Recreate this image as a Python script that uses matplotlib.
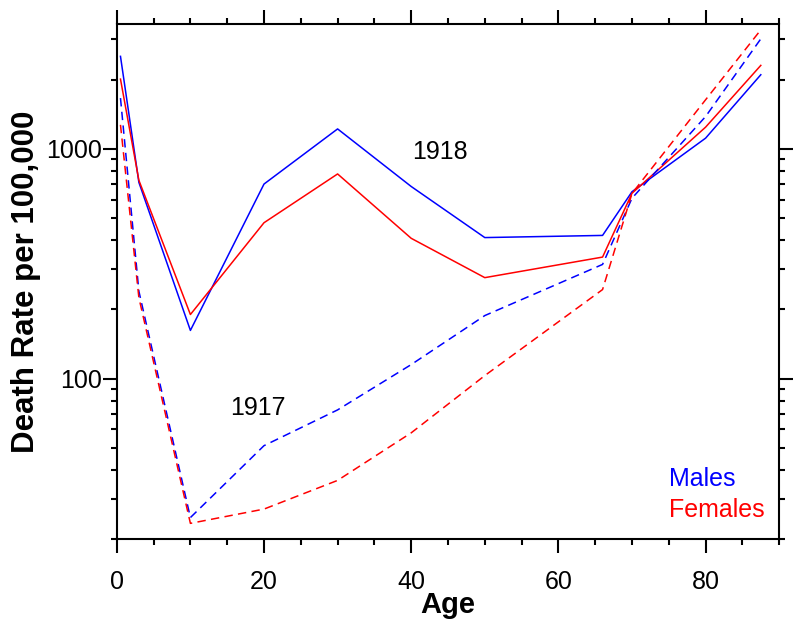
import matplotlib
matplotlib.use('Agg')
from matplotlib import pyplot as plt
from matplotlib.ticker import FixedLocator, LogLocator, MultipleLocator, NullFormatter

ages = [0.5, 3, 10, 20, 30, 40, 50, 66, 70, 80, 87.5]
males_1918 = [2530, 715, 162, 703, 1222, 686, 411, 420, 651, 1114, 2104]
females_1918 = [2014, 730, 190, 477, 778, 408, 275, 338, 641, 1244, 2311]
males_1917 = [1665, 240, 24.8, 51, 73, 115, 188, 314, 610, 1384, 3015]
females_1917 = [1273, 225, 23.4, 27, 36, 58, 103, 244, 640, 1637, 3300]

plt.rcParams['font.family'] = ['Liberation Sans', 'DejaVu Sans']

fig = plt.figure(figsize=(8.0, 6.28), dpi=100)
ax = fig.add_axes([0.146, 0.1417, 0.828, 0.8201])

lw = 1.1
ax.plot(ages, males_1918, color='#0000ff', lw=lw)
ax.plot(ages, females_1918, color='#ff0000', lw=lw)
ax.plot(ages, males_1917, color='#0000ff', lw=lw, dashes=(5.5, 3.5))
ax.plot(ages, females_1917, color='#ff0000', lw=lw, dashes=(5.5, 3.5))

ax.set_yscale('log')
ax.set_xlim(0, 90)
ax.set_ylim(20, 3500)

ax.xaxis.set_major_locator(MultipleLocator(20))
ax.xaxis.set_minor_locator(MultipleLocator(5))
ax.yaxis.set_major_locator(FixedLocator([100, 1000]))
ax.yaxis.set_minor_locator(LogLocator(base=10, subs=range(2, 10)))
ax.yaxis.set_major_formatter(plt.FuncFormatter(lambda v, p: '%d' % v))
ax.yaxis.set_minor_formatter(NullFormatter())

ax.tick_params(which='both', direction='out', top=True, right=True, width=1.5,
               labelsize=18)
ax.tick_params(which='major', length=10)
ax.tick_params(which='minor', length=4)
ax.tick_params(axis='x', which='major', pad=12)
ax.tick_params(axis='y', which='major', pad=1)
for s in ax.spines.values():
    s.set_linewidth(1.5)

ax.set_xlabel('Age', fontsize=21, fontweight='bold', labelpad=-2)
ax.set_ylabel('Death Rate per 100,000', fontsize=22.5, fontweight='bold', labelpad=3)

ax.text(43.9, 970, '1918', fontsize=18, ha='center', va='center')
ax.text(19.1, 74.7, '1917', fontsize=18, ha='center', va='center')
ax.text(75, 36.6, 'Males', fontsize=18, color='#0000ff', ha='left', va='center')
ax.text(75, 26.8, 'Females', fontsize=18, color='#ff0000', ha='left', va='center')

plt.savefig('out.png', dpi=100)
